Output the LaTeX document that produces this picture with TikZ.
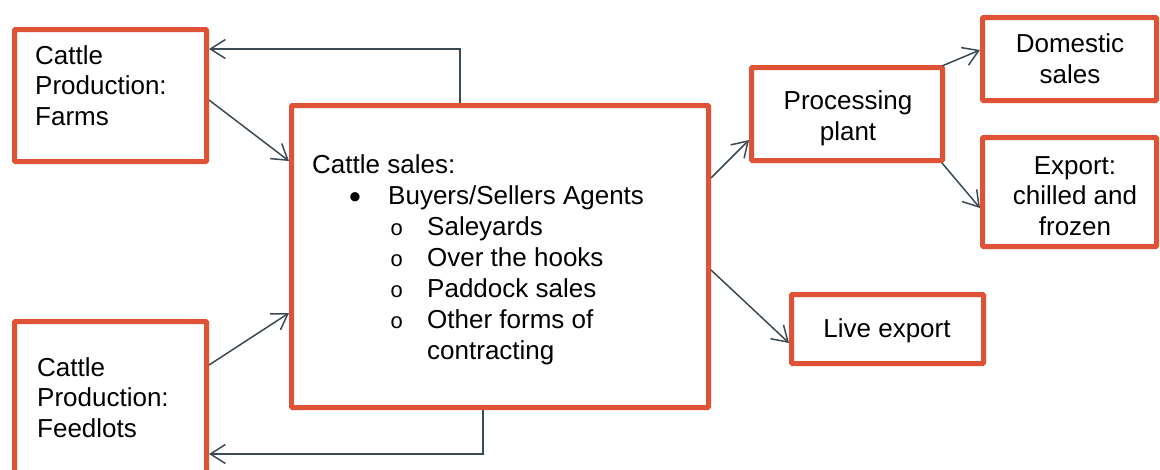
\documentclass[tikz,border=0pt]{standalone}
\usepackage{fontspec}
\setmainfont{Liberation Sans}
\newfontfamily\bulletmono{Liberation Mono}
\usetikzlibrary{arrows.meta}
\definecolor{boxred}{HTML}{E05236}
\definecolor{linkgray}{HTML}{3C4A56}
\tikzset{
  box/.style={draw=boxred, line width=5pt, rounded corners=1pt, fill=white, inner sep=0pt},
  txt/.style={font=\fontsize{26}{30.5}\selectfont, inner sep=0pt, text=black},
  link/.style={draw=linkgray, line width=1.5pt, -{Straight Barb[length=15pt,width=19pt,line width=1.5pt]}},
}
\newcommand{\subitemo}[1]{\hspace*{78pt}\makebox[37pt][l]{\bulletmono\fontsize{22}{22}\selectfont o}#1}
\begin{document}
\begin{tikzpicture}[x=1pt,y=-1pt]
  \useasboundingbox (0,0) rectangle (1160,469);

  % boxes
  \node[box, minimum width=192pt, minimum height=132pt] (farms) at (110.5,95.5) {};
  \node[box, minimum width=192pt, minimum height=180pt] (feedlots) at (110.5,411.5) {};
  \node[box, minimum width=417pt, minimum height=302pt] (sales) at (500,256.5) {};
  \node[box, minimum width=191pt, minimum height=93pt] (plant) at (847,114) {};
  \node[box, minimum width=174pt, minimum height=83pt] (domestic) at (1069.5,59) {};
  \node[box, minimum width=174pt, minimum height=109pt] (export) at (1069.5,192) {};
  \node[box, minimum width=192pt, minimum height=69pt] (live) at (887.5,329) {};

  % box texts (base anchor = baseline of the last line)
  \node[txt, anchor=base west, align=left] (farmstext) at (35,125) {Cattle\\Production:\\Farms};
  \node[txt, anchor=base west, align=left] (feedtext) at (37,437) {Cattle\\Production:\\Feedlots};
  \node[txt, anchor=base west, align=left, font=\fontsize{26}{31}\selectfont] (salestext) at (312,359)
    {Cattle sales:\\
     \hspace*{37pt}\makebox[39pt][l]{\raisebox{-4pt}{\fontsize{34}{31}\selectfont •}}Buyers/Sellers Agents\\
     \subitemo{Saleyards}\\
     \subitemo{Over the hooks}\\
     \subitemo{Paddock sales}\\
     \subitemo{Other forms of}\\
     \hspace*{115pt}contracting};
  \node[txt, anchor=base, align=center] (planttext) at (848,140) {Processing\\plant};
  \node[txt, anchor=base, align=center] (domtext) at (1070,83) {Domestic\\sales};
  \node[txt, anchor=base, align=center] (exptext) at (1075,235) {Export:\\chilled and\\frozen};
  \node[txt, anchor=base] (livetext) at (887,337) {Live export};

  % connectors
  \draw[link] ([xshift=-40pt]sales.north) |- ([yshift=46.5pt]farms.east);
  \draw[link] ([yshift=-4.5pt]farms.east) -- ([yshift=95.5pt]sales.west);
  \draw[link] ([yshift=46.5pt]feedlots.east) -- ([yshift=-56.5pt]sales.west);
  \draw[link] ([xshift=-17pt]sales.south) |- ([yshift=-42.5pt]feedlots.east);
  \draw[link] ([yshift=78.5pt]sales.east) -- ([yshift=-26pt]plant.west);
  \draw[link] ([xshift=-3pt,yshift=-1pt]plant.north east) -- ([yshift=9pt]domestic.west);
  \draw[link] ([xshift=-3pt]plant.south east) -- ([yshift=-16pt]export.west);
  \draw[link] ([yshift=-13.5pt]sales.east) -- ([yshift=-14pt]live.west);
\end{tikzpicture}
\end{document}
